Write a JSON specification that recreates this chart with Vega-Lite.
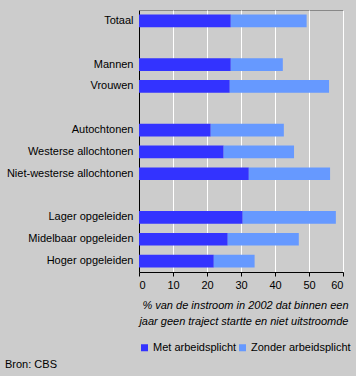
{
  "$schema": "https://vega.github.io/schema/vega-lite/v6.json",
  "width": 204,
  "height": 262,
  "autosize": "none",
  "padding": {"left": 139, "top": 10, "right": 13, "bottom": 104},
  "background": "#cccccc",
  "config": {
    "font": "Liberation Sans",
    "view": {"fill": "#cccccc", "stroke": "#888888", "strokeWidth": 1},
    "axis": {"labelFont": "Liberation Sans", "labelFontSize": 11, "labelColor": "#000000", "domainColor": "#000000", "tickColor": "#000000"},
    "legend": {"labelFont": "Liberation Sans", "labelFontSize": 11, "labelColor": "#000000"}
  },
  "title": {
    "text": "Bron: CBS",
    "orient": "bottom",
    "anchor": "start",
    "frame": "group",
    "dx": -134,
    "offset": 6,
    "font": "Liberation Sans",
    "fontSize": 11,
    "fontWeight": "normal",
    "color": "#000000"
  },
  "data": {
    "values": [
      {"categorie": "Totaal", "reeks": "Met arbeidsplicht", "waarde": 27.0},
      {"categorie": "Totaal", "reeks": "Zonder arbeidsplicht", "waarde": 22.3},
      {"categorie": "Mannen", "reeks": "Met arbeidsplicht", "waarde": 27.0},
      {"categorie": "Mannen", "reeks": "Zonder arbeidsplicht", "waarde": 15.3},
      {"categorie": "Vrouwen", "reeks": "Met arbeidsplicht", "waarde": 26.7},
      {"categorie": "Vrouwen", "reeks": "Zonder arbeidsplicht", "waarde": 29.2},
      {"categorie": "Autochtonen", "reeks": "Met arbeidsplicht", "waarde": 21.1},
      {"categorie": "Autochtonen", "reeks": "Zonder arbeidsplicht", "waarde": 21.5},
      {"categorie": "Westerse allochtonen", "reeks": "Met arbeidsplicht", "waarde": 24.9},
      {"categorie": "Westerse allochtonen", "reeks": "Zonder arbeidsplicht", "waarde": 20.7},
      {"categorie": "Niet-westerse allochtonen", "reeks": "Met arbeidsplicht", "waarde": 32.3},
      {"categorie": "Niet-westerse allochtonen", "reeks": "Zonder arbeidsplicht", "waarde": 23.9},
      {"categorie": "Lager opgeleiden", "reeks": "Met arbeidsplicht", "waarde": 30.5},
      {"categorie": "Lager opgeleiden", "reeks": "Zonder arbeidsplicht", "waarde": 27.4},
      {"categorie": "Midelbaar opgeleiden", "reeks": "Met arbeidsplicht", "waarde": 26.1},
      {"categorie": "Midelbaar opgeleiden", "reeks": "Zonder arbeidsplicht", "waarde": 20.9},
      {"categorie": "Hoger opgeleiden", "reeks": "Met arbeidsplicht", "waarde": 22.0},
      {"categorie": "Hoger opgeleiden", "reeks": "Zonder arbeidsplicht", "waarde": 12.0}
    ]
  },
  "mark": {"type": "bar"},
  "encoding": {
    "y": {
      "field": "categorie",
      "type": "nominal",
      "scale": {
        "domain": ["Totaal", " ", "Mannen", "Vrouwen", "  ", "Autochtonen", "Westerse allochtonen", "Niet-westerse allochtonen", "   ", "Lager opgeleiden", "Midelbaar opgeleiden", "Hoger opgeleiden"],
        "paddingInner": 0.42,
        "paddingOuter": 0.21
      },
      "axis": {"title": null, "ticks": false, "labelPadding": 6, "grid": false, "domainWidth": 1}
    },
    "x": {
      "field": "waarde",
      "type": "quantitative",
      "stack": "zero",
      "scale": {"domain": [0, 60], "nice": false},
      "axis": {
        "values": [0, 10, 20, 30, 40, 50, 60],
        "grid": true,
        "gridColor": "#ffffff",
        "gridOpacity": 1,
        "tickSize": 4,
        "labelPadding": 3,
        "title": ["% van de instroom in 2002 dat binnen een", "jaar geen traject startte en niet uitstroomde"],
        "titleFont": "Liberation Sans",
        "titleFontSize": 11,
        "titleFontStyle": "italic",
        "titleFontWeight": "normal",
        "titleColor": "#000000",
        "titleAlign": "right",
        "titleAnchor": "end",
        "titleBaseline": "alphabetic",
        "titleX": 209,
        "titleY": 36,
        "titleLineHeight": 16
      }
    },
    "color": {
      "field": "reeks",
      "type": "nominal",
      "scale": {"domain": ["Met arbeidsplicht", "Zonder arbeidsplicht"], "range": ["#3333ff", "#6699ff"]},
      "legend": {
        "title": null,
        "orient": "none",
        "legendX": 0,
        "legendY": 332,
        "direction": "horizontal",
        "symbolType": "square",
        "symbolSize": 49,
        "symbolStrokeWidth": 0,
        "labelOffset": 3,
        "columnPadding": 0,
        "padding": 0
      }
    }
  }
}
